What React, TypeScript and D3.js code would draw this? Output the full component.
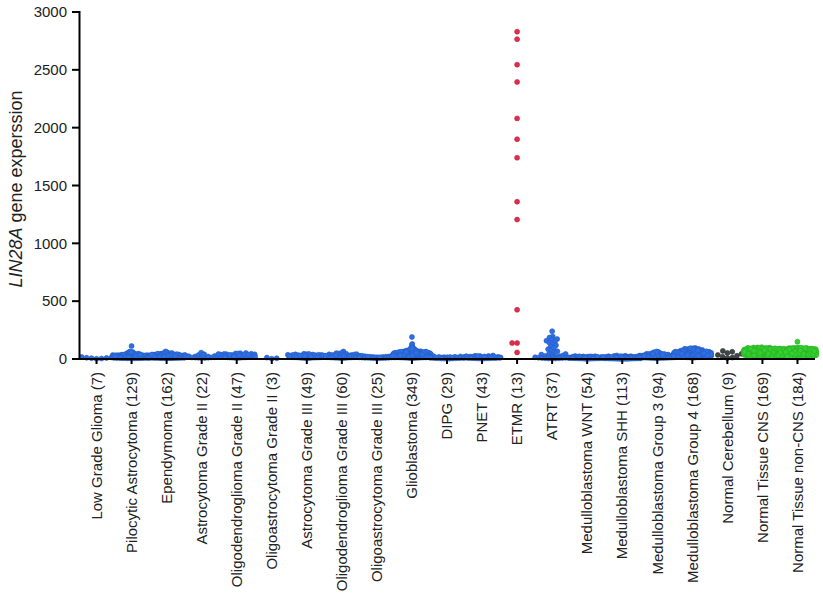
import React from "react";
import * as d3 from "d3";

const categories = [
  "Low Grade Glioma (7)",
  "Pilocytic Astrocytoma (129)",
  "Ependymoma (162)",
  "Astrocytoma Grade II (22)",
  "Oligodendroglioma Grade II (47)",
  "Oligoastrocytoma Grade II (3)",
  "Astrocytoma Grade III (49)",
  "Oligodendroglioma Grade III (60)",
  "Oligoastrocytoma Grade III (25)",
  "Glioblastoma (349)",
  "DIPG (29)",
  "PNET (43)",
  "ETMR (13)",
  "ATRT (37)",
  "Medulloblastoma WNT (54)",
  "Medulloblastoma SHH (113)",
  "Medulloblastoma Group 3 (94)",
  "Medulloblastoma Group 4 (168)",
  "Normal Cerebellum (9)",
  "Normal Tissue CNS (169)",
  "Normal Tissue non-CNS (184)",
];

const groupKind = [
  "tumor", "tumor", "tumor", "tumor", "tumor", "tumor", "tumor", "tumor", "tumor", "tumor",
  "tumor", "tumor", "etmr", "tumor", "tumor", "tumor", "tumor", "tumor", "cerebellum", "normal", "normal",
];

const kindColors: Record<string, string> = {
  tumor: "#2E6FE6",
  etmr: "#E62A4C",
  cerebellum: "#3E4646",
  normal: "#33D12F",
};

const yTicks = [0, 500, 1000, 1500, 2000, 2500, 3000];

const lowGradeGlioma = [4, 9, 14, 2, 18, 7, 11];
const pilocyticAstrocytoma = [
  12, 8, 15, 22, 5, 30, 18, 9, 25, 14, 33, 7, 20, 11, 28, 16, 40, 6, 19, 24,
  13, 35, 10, 27, 17, 45, 8, 21, 31, 14, 9, 38, 12, 26, 18, 50, 7, 23, 15, 29,
  11, 42, 20, 16, 34, 6, 25, 13, 55, 19, 10, 37, 22, 8, 30, 17, 47, 12, 26, 14,
  60, 9, 21, 33, 15, 40, 11, 28, 18, 24, 112, 13, 36, 7, 20, 44, 16, 27, 10, 32,
  19, 52, 14, 23, 8, 39, 17, 29, 12, 65, 21, 11, 35, 15, 26, 9, 48, 18, 31, 13,
  24, 7, 41, 16, 22, 10, 30, 20, 14, 37, 12, 27, 8, 19, 43, 15, 25, 11, 33, 17,
  9, 21, 28, 14, 58, 10, 23, 16, 35,
];
const ependymoma = [
  10, 18, 25, 7, 33, 14, 21, 40, 12, 28, 16, 9, 36, 22, 13, 45, 19, 27, 8, 31,
  15, 24, 50, 11, 29, 17, 38, 20, 6, 26, 14, 42, 23, 10, 34, 18, 55, 12, 30, 21,
  9, 37, 16, 25, 13, 47, 19, 28, 11, 35, 22, 7, 41, 15, 27, 18, 60, 12, 32, 20,
  14, 39, 24, 10, 30, 17, 48, 13, 26, 21, 8, 36, 19, 44, 15, 29, 11, 52, 23, 16,
  33, 12, 27, 20, 40, 9, 31, 18, 25, 14, 46, 22, 10, 35, 17, 28, 13, 38, 21, 15,
  30, 11, 43, 19, 26, 8, 34, 16, 24, 12, 65, 20, 29, 14, 37, 10, 23, 18, 32, 15,
  41, 22, 9, 27, 13, 36, 19, 49, 11, 25, 17, 31, 14, 21, 39, 12, 28, 16, 45, 10,
  24, 34, 18, 13, 30, 20, 15, 26, 11, 42, 19, 23, 14, 33, 9, 29, 17, 22, 12, 38,
  16, 27,
];
const astrocytomaII = [8, 15, 22, 12, 30, 18, 10, 26, 35, 14, 20, 55, 11, 24, 17, 40, 9, 28, 16, 33, 13, 21];
const oligodendrogliomaII = [
  12, 25, 18, 35, 10, 42, 22, 15, 30, 48, 20, 14, 38, 27, 11, 45, 24, 17, 33, 52,
  19, 13, 29, 40, 23, 16, 36, 50, 21, 9, 31, 26, 44, 18, 14, 34, 28, 47, 20, 12,
  39, 25, 16, 30, 43, 22, 37,
];
const oligoastrocytomaII = [3, 12, 6];
const astrocytomaIII = [
  10, 18, 25, 32, 14, 40, 21, 8, 28, 16, 35, 12, 22, 45, 19, 30, 9, 26, 15, 38,
  20, 13, 33, 24, 11, 42, 17, 29, 7, 23, 36, 14, 27, 19, 31, 10, 44, 22, 16, 34,
  12, 25, 18, 37, 15, 28, 20, 13, 30,
];
const oligodendrogliomaIII = [
  12, 20, 28, 15, 35, 9, 24, 42, 17, 30, 22, 11, 38, 26, 14, 48, 19, 32, 10, 25,
  65, 16, 29, 21, 13, 40, 23, 55, 18, 34, 27, 8, 36, 20, 15, 45, 24, 12, 31, 17,
  50, 22, 14, 28, 19, 37, 11, 26, 33, 16, 21, 9, 30, 18, 25, 13, 39, 23, 15, 27,
];
const oligoastrocytomaIII = [5, 12, 18, 8, 22, 15, 10, 28, 6, 14, 20, 9, 25, 16, 11, 30, 7, 19, 13, 24, 10, 17, 8, 21, 14];
const glioblastoma = [
  15, 28, 40, 12, 55, 22, 33, 18, 65, 25, 10, 45, 30, 20, 72, 14, 38, 26, 50, 17,
  35, 9, 60, 24, 42, 19, 80, 31, 13, 48, 27, 58, 16, 37, 22, 68, 11, 44, 29, 53,
  20, 34, 85, 15, 41, 26, 62, 18, 47, 32, 12, 56, 23, 39, 75, 17, 30, 51, 25, 43,
  190, 21, 36, 14, 64, 28, 46, 19, 90, 33, 24, 52, 16, 40, 70, 27, 11, 49, 35, 59,
  18, 31, 44, 22, 78, 13, 38, 57, 26, 42, 130, 29, 15, 54, 34, 20, 66, 37, 23, 48,
  10, 41, 27, 61, 19, 36, 82, 25, 45, 14, 32, 55, 21, 39, 17, 71, 28, 50, 24, 35,
  122, 43, 16, 58, 30, 12, 47, 26, 63, 20, 38, 22, 53, 15, 34, 76, 29, 44, 18, 40,
  25, 60, 13, 37, 49, 21, 33, 67, 27, 46, 19, 42, 31, 95, 23, 56, 16, 35, 28, 51,
  14, 39, 62, 24, 45, 20, 30, 73, 17, 48, 33, 26, 54, 11, 41, 29, 59, 22, 36, 18,
  47, 69, 25, 38, 15, 52, 31, 43, 21, 64, 28, 12, 46, 34, 57, 19, 40, 86, 27, 37,
  23, 50, 16, 44, 32, 65, 20, 39, 26, 55, 13, 36, 48, 24, 30, 72, 18, 42, 29, 53,
  21, 34, 61, 15, 45, 27, 38, 100, 22, 49, 31, 17, 56, 25, 41, 33, 68, 19, 35, 46,
  26, 58, 14, 39, 51, 23, 30, 44, 20, 63, 37, 28, 47, 12, 54, 32, 40, 79, 24, 36,
  18, 43, 25, 60, 29, 35, 21, 50, 16, 42, 33, 57, 22, 38, 27, 66, 14, 45, 31, 52,
  20, 40, 30, 74, 25, 48, 17, 36, 59, 28, 43, 15, 34, 55, 23, 39, 88, 26, 47, 19,
  32, 62, 21, 44, 28, 51, 13, 37, 24, 41, 29, 46, 18, 58, 35, 22, 70, 30, 16, 49,
  38, 25, 53, 20, 42, 31, 64, 27, 45, 11, 34, 19, 56, 24, 40, 93, 28, 48, 22, 36,
  17, 44, 30, 61, 26, 39, 21, 52, 33,
];
const dipg = [4, 10, 16, 7, 20, 12, 3, 14, 9, 22, 6, 18, 11, 5, 15, 8, 24, 13, 2, 17, 10, 6, 19, 12, 8, 14, 4, 21, 11];
const pnet = [
  5, 12, 20, 8, 26, 15, 3, 18, 10, 30, 7, 14, 22, 11, 4, 17, 9, 25, 13, 6,
  19, 28, 12, 8, 16, 21, 10, 5, 14, 24, 9, 18, 11, 7, 15, 27, 13, 6, 20, 10, 16, 8, 12,
];
const etmr = [2830, 2765, 2545, 2395, 2080, 1900, 1740, 1360, 1205, 425, 138, 138, 57];
const atrt = [
  240, 195, 185, 172, 165, 158, 150, 142, 130, 118, 105, 95, 85, 75, 66, 58, 50, 44, 38, 34,
  30, 27, 24, 21, 19, 17, 15, 13, 11, 10, 9, 8, 7, 6, 5, 4, 3,
];
const mbWnt = [
  6, 12, 18, 4, 22, 9, 15, 3, 11, 20, 7, 14, 25, 10, 5, 17, 8, 13, 21, 6,
  16, 2, 12, 19, 9, 24, 11, 4, 15, 7, 18, 10, 13, 5, 22, 8, 14, 3, 17, 11,
  20, 6, 9, 16, 12, 4, 19, 10, 7, 14, 23, 8, 13, 5,
];
const mbShh = [
  5, 10, 16, 3, 21, 8, 13, 2, 18, 11, 6, 14, 24, 9, 4, 17, 12, 7, 20, 10,
  15, 3, 28, 8, 13, 5, 19, 11, 6, 16, 9, 22, 4, 12, 14, 7, 18, 10, 2, 25,
  8, 15, 11, 5, 20, 13, 6, 17, 9, 3, 12, 23, 7, 14, 10, 4, 19, 8, 16, 11,
  5, 13, 30, 6, 18, 9, 12, 3, 15, 21, 7, 10, 14, 4, 17, 8, 26, 11, 6, 13,
  9, 19, 5, 12, 16, 2, 10, 22, 7, 14, 8, 18, 11, 4, 15, 6, 13, 9, 20, 10,
  5, 12, 17, 7, 14, 3, 11, 24, 8, 16, 6, 13, 9,
];
const mbGroup3 = [
  10, 18, 26, 7, 34, 14, 22, 42, 12, 30, 16, 9, 38, 20, 13, 48, 24, 11, 28, 17,
  55, 15, 32, 21, 8, 36, 19, 26, 12, 44, 23, 14, 30, 10, 40, 18, 62, 25, 16, 33,
  11, 27, 20, 46, 13, 35, 22, 9, 29, 17, 39, 24, 15, 52, 21, 12, 31, 18, 26, 14,
  58, 10, 34, 23, 16, 41, 20, 28, 13, 37, 25, 11, 45, 19, 30, 15, 22, 50, 17, 27,
  12, 36, 21, 33, 14, 24, 65, 18, 29, 10, 43, 20, 26, 16,
];
const mbGroup4 = [
  15, 30, 45, 22, 60, 35, 12, 52, 28, 75, 40, 18, 65, 33, 25, 85, 48, 20, 38, 57,
  27, 70, 14, 43, 32, 92, 24, 55, 37, 16, 62, 30, 46, 21, 78, 35, 50, 26, 68, 19,
  41, 58, 29, 88, 34, 13, 53, 39, 23, 72, 45, 31, 64, 17, 49, 27, 82, 36, 56, 22,
  40, 95, 28, 61, 33, 18, 47, 74, 25, 54, 38, 15, 66, 42, 30, 86, 21, 51, 35, 59,
  26, 44, 77, 32, 19, 63, 48, 24, 90, 37, 55, 29, 43, 14, 69, 34, 52, 23, 80, 40,
  28, 60, 36, 17, 47, 73, 31, 56, 20, 45, 84, 33, 25, 65, 39, 12, 58, 42, 27, 50,
  71, 30, 46, 22, 62, 35, 18, 54, 94, 26, 41, 67, 29, 49, 16, 57, 38, 79, 24, 44,
  32, 63, 21, 53, 36, 87, 28, 48, 19, 60, 40, 25, 70, 34, 51, 15, 45, 30, 66, 37,
  23, 56, 42, 76, 27, 39, 50, 33,
];
const normalCerebellum = [12, 28, 45, 62, 70, 35, 20, 52, 8];
const normalTissueCns = [
  20, 45, 70, 32, 88, 55, 15, 62, 40, 95, 28, 75, 50, 36, 82, 18, 66, 44, 58, 100,
  25, 72, 38, 90, 52, 12, 68, 47, 80, 33, 60, 22, 85, 42, 56, 76, 30, 92, 48, 64,
  17, 78, 54, 35, 86, 26, 70, 46, 98, 39, 62, 84, 29, 57, 74, 41, 94, 21, 67, 50,
  82, 34, 60, 89, 44, 73, 14, 53, 79, 37, 96, 58, 27, 69, 48, 87, 40, 63, 31, 77,
  55, 91, 24, 66, 43, 81, 35, 59, 102, 49, 71, 19, 84, 52, 38, 75, 61, 28, 93, 45,
  68, 33, 80, 56, 42, 88, 23, 64, 50, 97, 36, 73, 47, 85, 30, 58, 78, 41, 65, 16,
  90, 53, 26, 70, 44, 83, 37, 61, 99, 32, 76, 48, 57, 22, 87, 40, 67, 51, 79, 34,
  94, 59, 29, 72, 46, 85, 39, 63, 54, 81, 27, 69, 43, 92, 35, 57, 74, 49, 86, 20,
  65, 38, 78, 52, 31, 89, 45, 60, 71,
];
const normalTissueNonCns = [
  18, 42, 66, 30, 85, 52, 14, 60, 38, 92, 26, 72, 48, 34, 80, 20, 64, 44, 56, 98,
  24, 70, 36, 88, 50, 12, 66, 46, 78, 32, 58, 22, 83, 40, 54, 74, 28, 90, 47, 62,
  16, 76, 52, 33, 84, 25, 68, 44, 96, 38, 60, 150, 27, 55, 72, 40, 92, 20, 65, 49,
  80, 32, 58, 87, 43, 71, 13, 51, 77, 36, 94, 56, 26, 67, 47, 85, 39, 61, 30, 75,
  53, 89, 23, 64, 42, 79, 34, 57, 100, 48, 69, 18, 82, 50, 37, 73, 59, 27, 91, 44,
  66, 31, 78, 54, 41, 86, 22, 62, 49, 95, 35, 71, 46, 83, 29, 56, 76, 40, 63, 15,
  88, 52, 25, 68, 43, 81, 36, 60, 97, 31, 74, 47, 55, 21, 85, 39, 65, 50, 77, 33,
  92, 58, 28, 70, 45, 83, 38, 62, 53, 79, 26, 67, 42, 90, 34, 56, 72, 48, 84, 19,
  63, 37, 76, 51, 30, 87, 44, 59, 70, 24, 81, 46, 35, 64, 57, 29, 93, 41, 68, 52,
  39, 74, 48, 61,
];

const groupValues = [
  lowGradeGlioma, pilocyticAstrocytoma, ependymoma, astrocytomaII, oligodendrogliomaII,
  oligoastrocytomaII, astrocytomaIII, oligodendrogliomaIII, oligoastrocytomaIII, glioblastoma,
  dipg, pnet, etmr, atrt, mbWnt, mbShh, mbGroup3, mbGroup4, normalCerebellum,
  normalTissueCns, normalTissueNonCns,
];

const W = 823;
const H = 600;
const FONT = "'Liberation Sans', Arial, Helvetica, sans-serif";

// Beeswarm placement: each point gets the free horizontal offset nearest the centre;
// when the band is full it goes where it overlaps the fewest points.
function swarm(ys: number[], maxHalf: number, d: number): number[] {
  const order = d3.range(ys.length).sort((a, b) => ys[b] - ys[a]); // bottom first
  const placed: { x: number; y: number }[] = [];
  const out = new Array(ys.length).fill(0);
  let flip = 1;
  order.forEach((idx) => {
    const py = ys[idx];
    const intervals: [number, number][] = [];
    placed.forEach((p) => {
      const dy = Math.abs(p.y - py);
      if (dy < d) {
        const w = Math.sqrt(d * d - dy * dy);
        intervals.push([p.x - w, p.x + w]);
      }
    });
    const isFree = (xx: number) => intervals.every(([a, b]) => xx <= a + 1e-6 || xx >= b - 1e-6);
    const cands = [0];
    intervals.forEach(([a, b]) => {
      cands.push(a, b);
    });
    let best: number | null = null;
    cands
      .filter((c) => Math.abs(c) <= maxHalf + 1e-6)
      .sort((a, b) => Math.abs(a) - Math.abs(b) || (a - b) * flip)
      .some((c) => {
        if (isFree(c)) {
          best = c;
          return true;
        }
        return false;
      });
    if (best === null) {
      let bestCount = Infinity;
      let bestX = 0;
      for (let s = 0; s <= maxHalf * 2; s += 0.5) {
        for (const sign of [flip, -flip]) {
          const xx = sign * s;
          const cnt = intervals.reduce((acc, [a, b]) => acc + (xx > a && xx < b ? 1 : 0), 0);
          if (cnt < bestCount - 1e-9 && Math.abs(xx) <= maxHalf) {
            bestCount = cnt;
            bestX = xx;
          }
        }
      }
      best = bestX;
    }
    flip = -flip;
    out[idx] = best;
    placed.push({ x: best as number, y: py });
  });
  return out;
}

export default function App() {
  const x = d3.scaleBand<string>().domain(categories).range([79, 815]).padding(0);
  const y = d3.scaleLinear().domain([0, 3000]).range([359, 12]);
  const y0 = y(0);
  const bw = x.bandwidth();
  const r = 2.5;
  const maxHalf = 19;

  const points: { x: number; y: number; color: string; key: string }[] = [];
  groupValues.forEach((vals, gi) => {
    const cx = (x(categories[gi]) as number) + bw / 2;
    const color = kindColors[groupKind[gi]];
    const ys = vals.map((v) => y(v));
    // collision distance from the densest 5px slice
    const bins = d3.rollup(ys, (v) => v.length, (py) => Math.floor((y0 - py) / 5));
    const maxCount = d3.max(Array.from(bins.values())) || 1;
    const d = Math.max(0.9, Math.min(2 * r, Math.sqrt(220 / maxCount)));
    const offs = swarm(ys, maxHalf, d);
    ys.forEach((py, i) => {
      points.push({ x: cx + offs[i], y: py, color, key: `${gi}-${i}` });
    });
  });

  return (
    <svg
      width={W}
      height={H}
      style={{ position: "absolute", left: 0, top: 0, background: "#fff" }}
      fontFamily={FONT}
    >
      <g>
        {points.map((p) => (
          <circle
            key={p.key}
            cx={p.x}
            cy={p.y}
            r={r}
            fill={p.color}
            stroke={d3.color(p.color)!.darker(0.5).formatHex()}
            strokeWidth={0.6}
          />
        ))}
      </g>

      {/* y axis */}
      <line x1={79.5} x2={79.5} y1={y(3000) - 1} y2={y0 + 1} stroke="#000" strokeWidth={2} />
      {yTicks.map((t) => (
        <g key={t}>
          <line x1={72} x2={79} y1={y(t)} y2={y(t)} stroke="#000" strokeWidth={2} />
          <text x={67} y={y(t)} dy="0.35em" textAnchor="end" fontSize={15} fill="#222">
            {t}
          </text>
        </g>
      ))}
      <text transform={`translate(22, 189) rotate(-90)`} textAnchor="middle" fontSize={18} fill="#222">
        <tspan fontStyle="italic">LIN28A</tspan> gene experssion
      </text>

      {/* x axis */}
      <line x1={79} x2={815} y1={y0} y2={y0} stroke="#000" strokeWidth={2} />
      {categories.map((c) => {
        const cx = (x(c) as number) + bw / 2;
        return (
          <g key={c}>
            <line x1={cx} x2={cx} y1={y0} y2={y0 + 5} stroke="#000" strokeWidth={2} />
            <text
              transform={`translate(${cx}, 372) rotate(-90)`}
              dy="0.35em"
              textAnchor="end"
              fontSize={15}
              fill="#222"
            >
              {c}
            </text>
          </g>
        );
      })}
    </svg>
  );
}
